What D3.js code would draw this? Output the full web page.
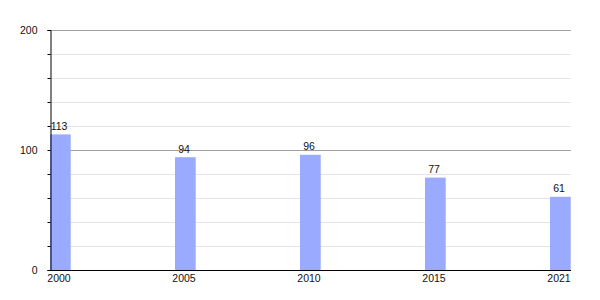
<!DOCTYPE html>
<html>
<head>
<meta charset="utf-8">
<script src="https://cdn.jsdelivr.net/npm/d3@7"></script>
<style>
  html, body { margin: 0; padding: 0; background: #fff; }
  svg { display: block; font-family: "Liberation Sans", Arial, sans-serif; }
</style>
</head>
<body>
<svg id="chart" width="600" height="300"></svg>
<script>
const years = ["2000", "2005", "2010", "2015", "2021"];
const values = [113, 94, 96, 77, 61];
const majorTicks = [0, 100, 200];
const minorTicks = [20, 40, 60, 80, 120, 140, 160, 180];

(function () {
const svg = d3.select("#chart");
const mLeft = 50, mRight = 571, mTop = 30, mBottom = 270;
const barW = 20.7;
const fs = 10.5;

const x = d3.scalePoint().domain(years).range([mLeft, 550]);
const y = d3.scaleLinear().domain([0, 200]).range([mBottom, mTop]);

// minor gridlines
svg.append("g").selectAll("line").data(minorTicks).join("line")
  .attr("x1", mLeft).attr("x2", mRight)
  .attr("y1", d => Math.round(y(d)) + 0.5).attr("y2", d => Math.round(y(d)) + 0.5)
  .attr("stroke", "#e4e4e4").attr("stroke-width", 1);

// major gridlines
svg.append("g").selectAll("line").data(majorTicks.filter(d => d > 0)).join("line")
  .attr("x1", mLeft).attr("x2", mRight)
  .attr("y1", d => Math.round(y(d)) + 0.5).attr("y2", d => Math.round(y(d)) + 0.5)
  .attr("stroke", "#a0a0a0").attr("stroke-width", 1);

// bars
svg.append("g").selectAll("rect").data(values).join("rect")
  .attr("x", (d, i) => x(years[i]))
  .attr("y", d => y(d))
  .attr("width", barW)
  .attr("height", d => y(0) - y(d))
  .attr("fill", "#99aaff");

// value labels
svg.append("g").selectAll("text").data(values).join("text")
  .attr("x", (d, i) => x(years[i]) + 9)
  .attr("y", d => y(d) - 4.5)
  .attr("text-anchor", "middle")
  .attr("font-size", fs)
  .attr("fill", "#111")
  .text(d => d);

// y axis
const yAxisMinor = d3.axisLeft(y).tickValues(minorTicks.concat(majorTicks)).tickSize(3).tickFormat("");
const gy = svg.append("g").attr("transform", `translate(${mLeft + 0.5},0)`).call(yAxisMinor);
gy.select(".domain").attr("stroke", "#000");
gy.selectAll(".tick line").attr("stroke", "#000");
const yAxisMajor = d3.axisLeft(y).tickValues(majorTicks).tickSize(0).tickPadding(13).tickFormat(d3.format("d"));
const gy2 = svg.append("g").attr("transform", `translate(${mLeft + 0.5},0)`).call(yAxisMajor);
gy2.select(".domain").remove();
gy2.selectAll("text").attr("font-size", fs).attr("fill", "#111")
  .attr("font-family", "'Liberation Sans', Arial, sans-serif");

// x axis
const xAxis = d3.axisBottom(x).tickSize(0).tickPadding(4.5).tickFormat(d => d);
const gx = svg.append("g").attr("transform", `translate(8.5,${mBottom + 0.5})`).call(xAxis);
gx.select(".domain").remove();
gx.selectAll("text").attr("font-size", fs).attr("fill", "#111")
  .attr("font-family", "'Liberation Sans', Arial, sans-serif");
svg.append("line")
  .attr("x1", mLeft).attr("x2", mRight)
  .attr("y1", mBottom + 0.5).attr("y2", mBottom + 0.5)
  .attr("stroke", "#000").attr("stroke-width", 1);
})();
</script>
</body>
</html>
